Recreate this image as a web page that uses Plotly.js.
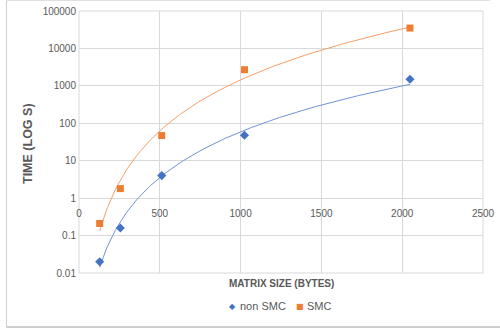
<!DOCTYPE html>
<html>
<head>
<meta charset="utf-8">
<script src="https://cdn.plot.ly/plotly-3.0.1.min.js"></script>
<style>
html,body{margin:0;padding:0;background:#fff;}
#chart{width:500px;height:329px;}
</style>
</head>
<body>
<div id="chart"></div>
<script>
// Data
var matrixSize = [128, 256, 512, 1024, 2048];
var nonSMC = [0.02, 0.16, 4, 48, 1500];
var SMC = [0.21, 1.8, 47, 2700, 35000];
var seriesNames = ['non SMC', 'SMC'];
var xTicks = [0, 500, 1000, 1500, 2000, 2500];
var yTickVals = [0.01, 0.1, 1, 10, 100, 1000, 10000, 100000];
var yTickText = ['0.01', '0.1', '1', '10', '100', '1000', '10000', '100000'];

var W = 500, H = 329;
var M = {l: 79, r: 17, t: 11, b: 56};
var pw = W - M.l - M.r, ph = H - M.t - M.b;
function px(x){ return (x - M.l) / pw; }
function py(y){ return (H - M.b - y) / ph; }

// Power trendline (least squares in log-log), as Excel does
function powerFit(xs, ys){
  var n = xs.length, sx = 0, sy = 0, sxx = 0, sxy = 0;
  for (var i = 0; i < n; i++){
    var lx = Math.log(xs[i]), ly = Math.log(ys[i]);
    sx += lx; sy += ly; sxx += lx*lx; sxy += lx*ly;
  }
  var b = (n*sxy - sx*sy) / (n*sxx - sx*sx);
  var a = Math.exp((sy - b*sx) / n);
  var tx = [], ty = [];
  var x0 = xs[0], x1 = xs[n-1];
  for (var k = 0; k <= 200; k++){
    var x = x0 + (x1 - x0) * k / 200;
    tx.push(x); ty.push(a * Math.pow(x, b));
  }
  return {x: tx, y: ty};
}
var fitN = powerFit(matrixSize, nonSMC);
var fitS = powerFit(matrixSize, SMC);

var blue = '#4472C4', orange = '#ED7D31';
var font = 'Liberation Sans, Arial, sans-serif';
var txt = '#595959';

var traces = [
  {x: fitN.x, y: fitN.y, mode: 'lines', line: {color: '#6f93d8', width: 1}, showlegend: false, hoverinfo: 'skip'},
  {x: fitS.x, y: fitS.y, mode: 'lines', line: {color: '#f4a06a', width: 1}, showlegend: false, hoverinfo: 'skip'},
  {x: matrixSize, y: nonSMC, mode: 'markers', name: seriesNames[0], showlegend: false, marker: {symbol: 'diamond', color: blue, size: 7}},
  {x: matrixSize, y: SMC, mode: 'markers', name: seriesNames[1], showlegend: false, marker: {symbol: 'square', color: orange, size: 7}}
];

var grid = '#d9d9d9';
var legY = py(306);
var layout = {
  width: W, height: H,
  margin: M,
  paper_bgcolor: '#fff', plot_bgcolor: '#fff',
  font: {family: font, size: 10, color: txt},
  showlegend: false,
  xaxis: {
    range: [0, 2500], tickvals: xTicks, ticktext: xTicks.map(String),
    anchor: 'free', position: 2/7, showline: false, zeroline: false,
    showgrid: true, gridcolor: grid, gridwidth: 1, ticks: '', ticklabelstandoff: 8,
    tickfont: {size: 10, color: txt}
  },
  yaxis: {
    type: 'log', range: [-2, 5], tickvals: yTickVals, ticktext: yTickText,
    showline: false, zeroline: false, showgrid: true, gridcolor: grid, gridwidth: 1,
    ticks: '', ticklabelstandoff: 2, tickfont: {size: 10, color: txt}
  },
  annotations: [
    {text: '<b>MATRIX SIZE (BYTES)</b>', xref: 'paper', yref: 'paper', x: 0.5, y: py(283),
     xanchor: 'center', yanchor: 'middle', showarrow: false, font: {size: 10, color: txt}},
    {text: '<b>TIME (LOG S)</b>', xref: 'paper', yref: 'paper', x: px(28), y: py(144),
     xanchor: 'center', yanchor: 'middle', textangle: -90, showarrow: false, font: {size: 12.5, color: txt}},
    // legend
    {text: '◆', xref: 'paper', yref: 'paper', x: px(232.5), y: legY, xanchor: 'center', yanchor: 'middle',
     showarrow: false, font: {family: 'DejaVu Sans', size: 8, color: blue}},
    {text: seriesNames[0], xref: 'paper', yref: 'paper', x: px(238), y: legY, xanchor: 'left', yanchor: 'middle',
     showarrow: false, font: {size: 11, color: txt}},
    {text: '■', xref: 'paper', yref: 'paper', x: px(300), y: legY, xanchor: 'center', yanchor: 'middle',
     showarrow: false, font: {family: 'DejaVu Sans', size: 8, color: orange}},
    {text: seriesNames[1], xref: 'paper', yref: 'paper', x: px(305), y: legY, xanchor: 'left', yanchor: 'middle',
     showarrow: false, font: {size: 11, color: txt}}
  ],
  shapes: [
    {type: 'rect', xref: 'paper', yref: 'paper', x0: 0, x1: 1, y0: 0, y1: 1, line: {color: grid, width: 1}, layer: 'below'},
    {type: 'line', xref: 'paper', yref: 'paper', x0: px(6.5), x1: px(6.5), y0: py(0.5), y1: py(327), line: {color: '#d0d0d0', width: 1}},
    {type: 'line', xref: 'paper', yref: 'paper', x0: px(6.5), x1: px(490), y0: py(0.5), y1: py(0.5), line: {color: '#e0e0e0', width: 1}},
    {type: 'line', xref: 'paper', yref: 'paper', x0: px(6.5), x1: px(500), y0: py(327), y1: py(327), line: {color: '#bfbfbf', width: 1.5}}
  ]
};

Plotly.newPlot('chart', traces, layout, {staticPlot: true, displayModeBar: false});
</script>
</body>
</html>
